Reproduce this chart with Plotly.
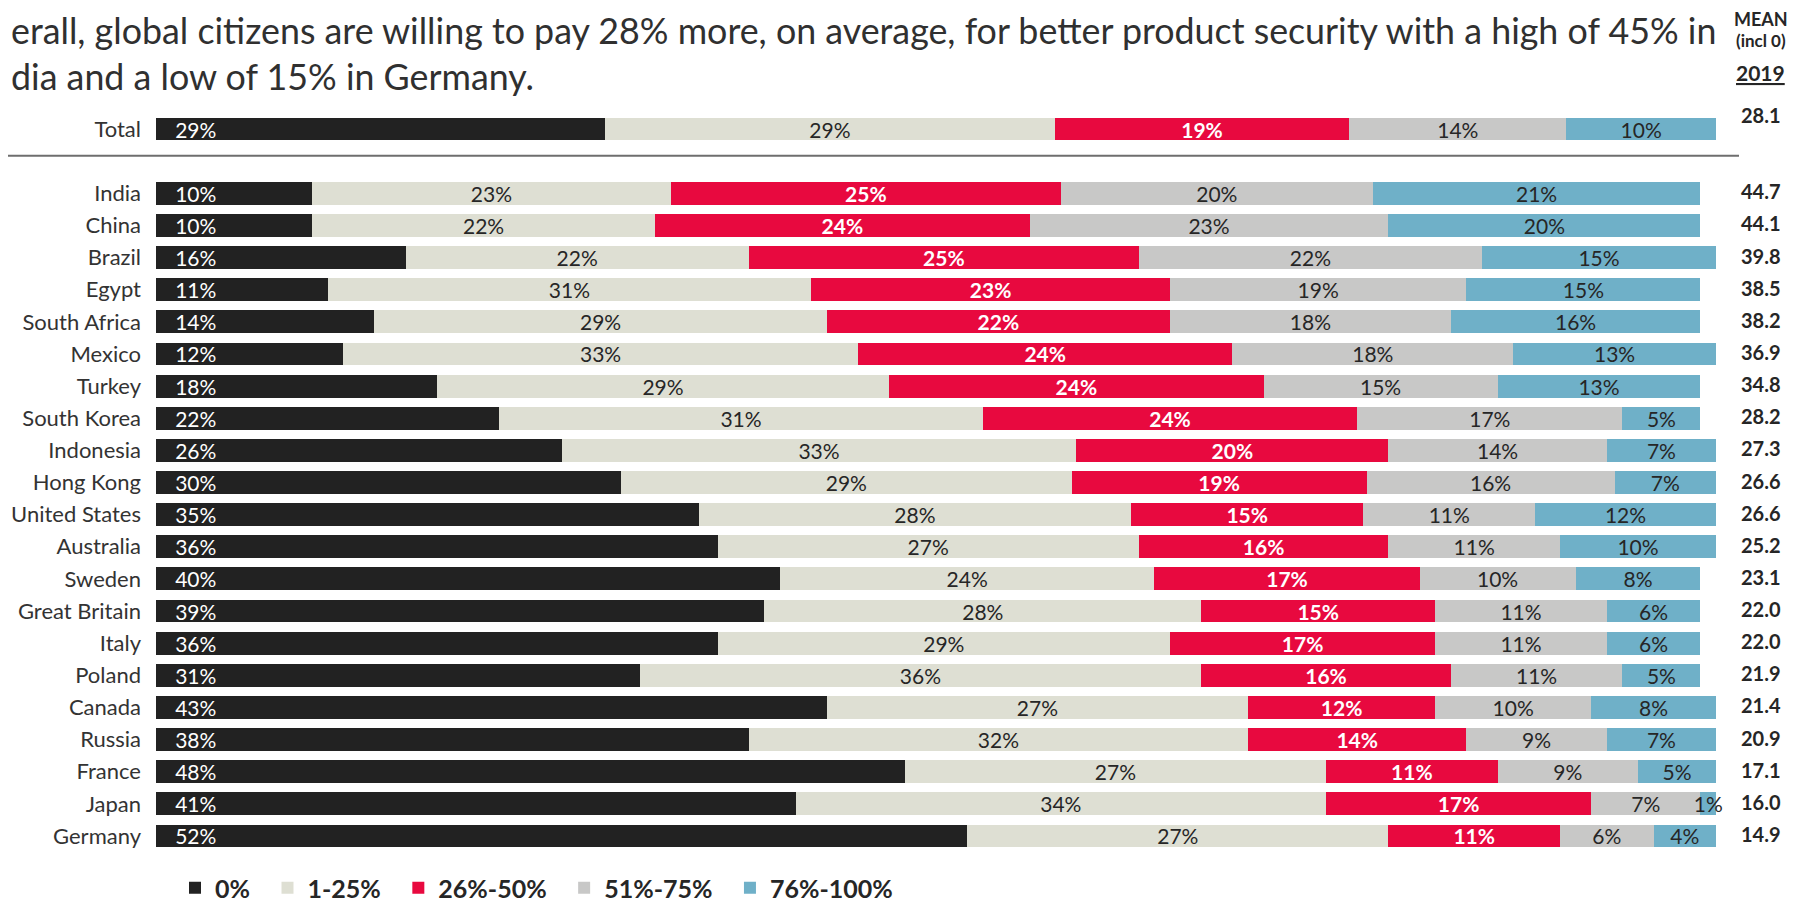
import plotly.graph_objects as go

# ---------------- data ----------------
countries = ["Total", "India", "China", "Brazil", "Egypt", "South Africa", "Mexico",
             "Turkey", "South Korea", "Indonesia", "Hong Kong", "United States",
             "Australia", "Sweden", "Great Britain", "Italy", "Poland", "Canada",
             "Russia", "France", "Japan", "Germany"]

pct_0 = [28.8, 10, 10, 16, 11, 14, 12, 18, 22, 26, 29.8, 34.8, 36, 40, 39, 36, 31, 43, 38, 48, 41, 52]
pct_1_25 = [28.8, 23, 22, 22, 31, 29, 33, 29, 31, 33, 28.9, 27.7, 27, 24, 28, 29, 36, 27, 32, 27, 34, 27]
pct_26_50 = [18.9, 25, 24, 25, 23, 22, 24, 24, 24, 20, 18.9, 14.9, 16, 17, 15, 17, 16, 12, 14, 11, 17, 11]
pct_51_75 = [13.9, 20, 23, 22, 19, 18, 18, 15, 17, 14, 15.9, 11, 11, 10, 11, 11, 11, 10, 9, 9, 7, 6]
pct_76_100 = [9.6, 21, 20, 15, 15, 16, 13, 13, 5, 7, 6.5, 11.6, 10, 8, 6, 6, 5, 8, 7, 5, 1, 4]

mean_2019 = [28.1, 44.7, 44.1, 39.8, 38.5, 38.2, 36.9, 34.8, 28.2, 27.3, 26.6, 26.6,
             25.2, 23.1, 22.0, 22.0, 21.9, 21.4, 20.9, 17.1, 16.0, 14.9]

series_names = ["0%", "1-25%", "26%-50%", "51%-75%", "76%-100%"]
series_values = [pct_0, pct_1_25, pct_26_50, pct_51_75, pct_76_100]
series_colors = ["#222222", "#dedfd3", "#e8093f", "#c8c8c7", "#6fb0c8"]

title_line1 = "erall, global citizens are willing to pay 28% more, on average, for better product security with a high of 45% in"
title_line2 = "dia and a low of 15% in Germany."

# ---------------- layout geometry (pixels) ----------------
FIG_W, FIG_H = 1796, 902
L, R, T, B = 148, 88, 105, 8
PW, PH = FIG_W - L - R, FIG_H - T - B
ROW_PITCH = 32.13


def px(xfig):
    return (xfig - L) / PW


def py(yfig):
    return 1 + (T - yfig) / PH


# ---------------- figure ----------------
FONT = "Lato, 'Open Sans', sans-serif"
TXT = "#262626"
SPACER = " "
category_order = [countries[0], SPACER] + countries[1:]
MEAN_X = px(1753)

fig = go.Figure()
for i, (name, vals, color) in enumerate(zip(series_names, series_values, series_colors)):
    if i == 0:
        tmpl = "\u00a0\u00a0\u00a0%{x:.0f}%"
        anchor = "start"
        tfont = dict(family=FONT, size=21, color="white")
    elif i == 2:
        tmpl = "%{x:.0f}%"
        anchor = "middle"
        tfont = dict(family=FONT, size=21, color="white", weight="bold")
    else:
        tmpl = "%{x:.0f}%"
        anchor = "middle"
        tfont = dict(family=FONT, size=21, color=TXT)
    legend_label = name + ("\u2002" if i < len(series_names) - 1 else "")
    fig.add_trace(go.Bar(
        y=countries, x=vals, orientation="h", name=legend_label,
        marker=dict(color=color, line=dict(width=0)),
        texttemplate=tmpl, textposition="inside", insidetextanchor=anchor,
        textangle=0, textfont=tfont, cliponaxis=False, hoverinfo="skip",
    ))

# mean column
for c, m in zip(countries, mean_2019):
    fig.add_annotation(
        x=MEAN_X, xref="paper", y=c, yref="y", text=f"<b>{m:.1f}</b>",
        showarrow=False, xanchor="center", yanchor="middle",
        yshift=14 if c == countries[0] else 2,
        font=dict(family=FONT, size=20, color=TXT),
    )

# header of mean column
fig.add_annotation(x=MEAN_X, xref="paper", y=py(11), yref="paper", text="<b>MEAN</b>",
                   showarrow=False, xanchor="center", yanchor="middle",
                   font=dict(family=FONT, size=18, color=TXT))
fig.add_annotation(x=MEAN_X, xref="paper", y=py(32), yref="paper", text="<b>(incl 0)</b>",
                   showarrow=False, xanchor="center", yanchor="middle",
                   font=dict(family=FONT, size=17, color=TXT))
fig.add_annotation(x=MEAN_X, xref="paper", y=py(64), yref="paper", text="<b><u>2019</u></b>",
                   showarrow=False, xanchor="center", yanchor="middle",
                   font=dict(family=FONT, size=21, color=TXT))

# title (cropped slide text)
fig.add_annotation(x=px(1), xref="paper", y=py(22.6), yref="paper", text=title_line1,
                   showarrow=False, xanchor="left", yanchor="middle",
                   font=dict(family=FONT, size=35.8, color="#303030"))
fig.add_annotation(x=px(1), xref="paper", y=py(68.7), yref="paper", text=title_line2,
                   showarrow=False, xanchor="left", yanchor="middle",
                   font=dict(family=FONT, size=35.8, color="#303030"))

# separator line between Total and countries
sep_y = category_order.index(SPACER) - 0.17
fig.add_shape(type="line", xref="paper", yref="y", x0=px(0), x1=px(1731),
              y0=sep_y, y1=sep_y, line=dict(color="#6e6e6e", width=2))

fig.update_layout(
    width=FIG_W, height=FIG_H,
    barmode="stack", bargap=0.29,
    margin=dict(l=L, r=R, t=T, b=B, autoexpand=False),
    paper_bgcolor="white", plot_bgcolor="white",
    font=dict(family=FONT, color=TXT),
    uniformtext=dict(mode="show", minsize=21),
    showlegend=True,
    legend=dict(orientation="h", x=px(167), xanchor="left", y=py(880), yanchor="middle",
                font=dict(family=FONT, size=25, color=TXT, weight="bold"),
                bgcolor="rgba(0,0,0,0)",
                traceorder="normal", itemclick=False, itemdoubleclick=False),
    xaxis=dict(range=[0, 100], visible=False, fixedrange=True),
    yaxis=dict(type="category", categoryorder="array", categoryarray=category_order,
               range=[-0.5 + PH / ROW_PITCH, -0.5], automargin=False,
               showgrid=False, zeroline=False, showline=False, ticks="",
               ticklabelstandoff=14,
               tickfont=dict(family=FONT, size=22, color="#333333"), fixedrange=True),
)

fig.write_html("out.html")
